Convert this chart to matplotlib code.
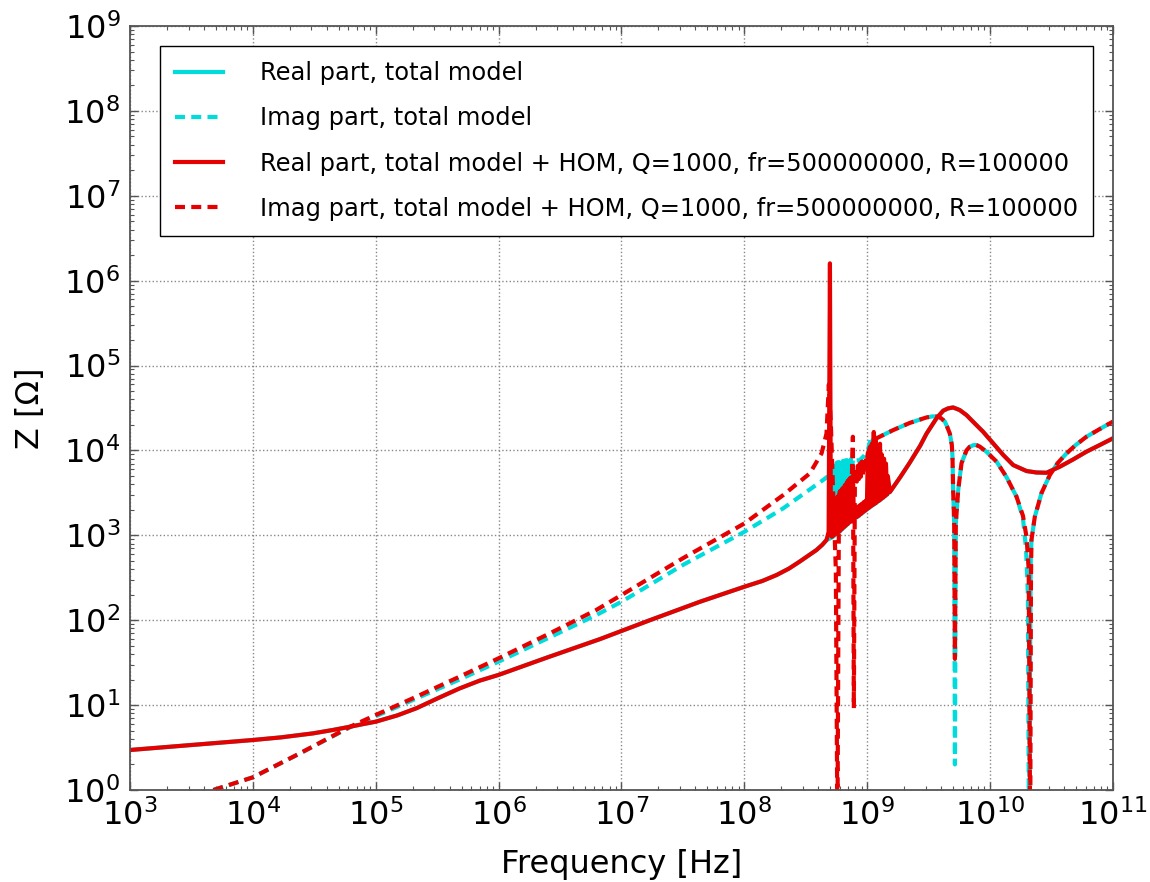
import matplotlib
matplotlib.use("Agg")
import matplotlib.pyplot as plt
from matplotlib.ticker import LogLocator, NullFormatter

# ---- real part, total model (smooth broadband curve) ----
real_freq = [1e3, 1e4, 1.7e4, 3.1e4, 4.5e4, 6.2e4, 8e4, 1e5, 1.5e5, 2.15e5, 3.2e5, 4.8e5,
             7e5, 1e6, 2.5e6, 6.7e6, 1.7e7, 4.35e7, 1e8, 1.4e8, 1.83e8, 2.3e8, 2.81e8,
             3.3e8, 3.86e8, 4.3e8, 4.66e8, 5.2e8, 6.0e8, 7.2e8, 8.7e8, 1.05e9,
             1.27e9, 1.53e9, 1.87e9, 2.22e9, 2.7e9, 3.04e9, 3.66e9, 4.15e9, 4.55e9,
             5.0e9, 5.66e9, 6.42e9, 7.5e9, 8.77e9, 1.06e10, 1.28e10, 1.54e10, 1.98e10,
             2.38e10, 2.88e10, 3.69e10, 4.73e10, 6.08e10, 7.82e10, 1e11]
real_vals = [2.96, 3.88, 4.17, 4.65, 5.1, 5.57, 6.0, 6.38, 7.57, 9.2, 12.05, 15.7,
             19.4, 22.7, 36.5, 60, 100, 165, 248, 290, 341, 405, 489,
             574, 671, 772, 880, 950, 1120, 1430, 1740, 2150,
             2600, 3240, 4930, 7200, 11400, 15800, 23900, 29400, 31300,
             32100, 29900, 26100, 20800, 16600, 12100, 8830, 6730, 5720,
             5500, 5460, 6430, 7820, 9670, 11600, 13900]

# ---- imaginary part, total model ----
imag_freq = [4.77e3, 1e4, 2.42e4, 6.2e4, 1e5, 2.15e5, 4.8e5, 1e6, 2.61e6, 6.23e6,
             1e7, 3.18e7, 1e8, 2.07e8, 4.37e8, 5.0e8,
             5.15e8, 5.25e8, 5.35e8, 5.45e8, 5.55e8, 5.66e8, 5.77e8, 5.87e8, 5.98e8,
             6.09e8, 6.21e8, 6.33e8, 6.45e8, 6.57e8, 6.70e8, 6.82e8, 6.95e8, 7.08e8,
             7.22e8, 7.36e8, 7.50e8, 7.64e8, 8.08e8, 8.71e8, 9.39e8, 1.01e9, 1.07e9,
             1.09e9, 1.13e9, 1.17e9, 1.19e9, 1.63e9, 2.22e9, 3.04e9, 3.4e9, 3.78e9,
             4.0e9, 4.28e9, 4.47e9, 4.7e9, 4.88e9, 4.94e9, 5.0e9, 5.1e9, 5.17e9,
             5.26e9, 5.5e9, 5.85e9, 6.42e9, 6.8e9, 7.26e9, 7.7e9, 8.24e9, 9.33e9,
             1.13e10, 1.36e10, 1.64e10, 1.85e10, 1.96e10, 2.03e10, 2.07e10, 2.14e10,
             2.17e10, 2.31e10, 2.62e10, 3.06e10, 3.55e10, 4.19e10, 4.98e10, 6.08e10,
             7.82e10, 1e11]
imag_vals = [1.0, 1.41, 2.7, 5.5, 7.4, 12, 20, 32.5, 63, 115,
             165, 450, 1100, 2080, 4480, 5200,
             3000, 6800, 3000, 7000, 3000, 7200, 3200, 7300, 3400,
             7400, 3600, 7500, 3800, 7600, 4000, 7700, 4200, 7800,
             4500, 7900, 4800, 8000, 7600, 7700, 8600, 10000, 14000,
             11500, 16000, 13000, 13900, 17400, 21100, 24500, 25200, 25000,
             23900, 21900, 19000, 15800, 11600, 8440, 3420, 1390, 2.0,
             1390, 3420, 7070, 10000, 11000, 11500, 11600, 11100, 9670,
             7360, 4850, 2850, 1600, 700, 200, 0.3, 500,
             880, 1650, 3150, 5130, 7110, 9250, 11600, 14500,
             17900, 21900]

# ---- real part, total model + HOM resonator ----
hom_real_freq = [1e3, 1e4, 1.7e4, 3.1e4, 4.5e4, 6.2e4, 8e4, 1e5, 1.5e5, 2.15e5, 3.2e5,
                 4.8e5, 7e5, 1e6, 2.5e6, 6.7e6, 1.7e7, 4.35e7, 1e8, 1.4e8, 1.83e8,
                 2.3e8, 2.81e8, 3.3e8, 3.86e8, 4.3e8, 4.66e8, 4.85e8, 4.97e8, 5.06e8,
                 5.15e8, 5.25e8, 5.35e8, 5.45e8, 5.55e8, 5.66e8, 5.77e8, 5.87e8,
                 5.98e8, 6.09e8, 6.21e8, 6.33e8, 6.45e8, 6.57e8, 6.70e8, 6.82e8,
                 6.95e8, 7.08e8, 7.22e8, 7.36e8, 7.50e8, 7.64e8, 7.78e8, 8.08e8,
                 8.23e8, 8.39e8, 8.55e8, 8.71e8, 8.87e8, 9.04e8, 9.21e8, 9.39e8,
                 9.57e8, 9.75e8, 9.93e8, 1.01e9, 1.03e9, 1.05e9, 1.07e9, 1.09e9,
                 1.11e9, 1.13e9, 1.15e9, 1.17e9, 1.19e9, 1.22e9, 1.24e9, 1.27e9,
                 1.29e9, 1.31e9, 1.34e9, 1.37e9, 1.39e9, 1.42e9, 1.45e9, 1.47e9,
                 1.53e9, 1.87e9, 2.22e9, 2.7e9, 3.04e9, 3.66e9, 4.15e9, 4.55e9,
                 5.0e9, 5.66e9, 6.42e9, 7.5e9, 8.77e9, 1.06e10, 1.28e10, 1.54e10,
                 1.98e10, 2.38e10, 2.88e10, 3.69e10, 4.73e10, 6.08e10, 7.82e10, 1e11]
hom_real_vals = [2.96, 3.88, 4.17, 4.65, 5.1, 5.57, 6.0, 6.38, 7.57, 9.2, 12.05,
                 15.7, 19.4, 22.7, 36.5, 60, 100, 165, 248, 290, 341,
                 405, 489, 574, 671, 772, 880, 1100, 1.6e6, 1000,
                 960, 2400, 1000, 2600, 1040, 2800, 1080, 3000,
                 1120, 3300, 1180, 3600, 1240, 3900, 1300, 4200,
                 1360, 4500, 1430, 4800, 1490, 5000, 1550, 2100,
                 1640, 2180, 1700, 2260, 1780, 2360, 1860, 2470,
                 1940, 2570, 2020, 9000, 2100, 11000, 2190, 12000,
                 2270, 16500, 2350, 13000, 2430, 11000, 2540, 12000,
                 2650, 9000, 2760, 8000, 2880, 7000, 3020, 5000,
                 3240, 4930, 7200, 11400, 15800, 23900, 29400, 31300,
                 32100, 29900, 26100, 20800, 16600, 12100, 8830, 6730,
                 5720, 5500, 5460, 6430, 7820, 9670, 11600, 13900]

# ---- imaginary part, total model + HOM resonator ----
hom_imag_freq = [4.77e3, 1e4, 2.42e4, 6.2e4, 1e5, 2.15e5, 4.8e5, 1e6, 2.61e6, 6.23e6,
                 1e7, 3.18e7, 1e8, 2.07e8, 3.41e8, 4.25e8, 4.66e8, 4.87e8, 5.06e8,
                 5.25e8, 5.55e8, 5.72e8, 5.87e8, 5.98e8, 6.09e8, 6.21e8, 6.33e8,
                 6.45e8, 6.57e8, 6.70e8, 6.82e8, 6.95e8, 7.08e8, 7.22e8, 7.36e8,
                 7.50e8, 7.64e8, 7.78e8, 7.93e8, 8.08e8, 8.23e8, 8.39e8, 8.55e8,
                 8.71e8, 8.87e8, 9.04e8, 9.21e8, 9.39e8, 9.57e8, 9.75e8, 9.93e8,
                 1.01e9, 1.05e9, 1.09e9, 1.19e9, 1.63e9, 2.22e9, 3.04e9, 3.4e9, 3.78e9,
                 4.0e9, 4.28e9, 4.47e9, 4.7e9, 4.88e9, 4.94e9, 5.0e9, 5.1e9, 5.17e9,
                 5.26e9, 5.5e9, 5.85e9, 6.42e9, 6.8e9, 7.26e9, 7.7e9, 8.24e9, 9.33e9,
                 1.13e10, 1.36e10, 1.64e10, 1.85e10, 1.98e10, 2.06e10, 2.12e10,
                 2.15e10, 2.17e10, 2.31e10, 2.62e10, 3.06e10, 3.55e10, 4.19e10,
                 4.98e10, 6.08e10, 7.82e10, 1e11]
hom_imag_vals = [1.0, 1.41, 2.71, 5.57, 7.65, 12.6, 21.6, 35.6, 70, 132,
                 198, 540, 1380, 2980, 5370, 9250, 15800, 60000, 20000,
                 4000, 400, 0.3, 1200, 3300, 2600, 3500, 2800,
                 3800, 3000, 4100, 3200, 4400, 3400, 4700, 3600,
                 5000, 14500, 9.2, 4000, 6200, 4300, 6600, 4600,
                 7000, 4900, 7400, 5100, 7900, 5300, 8400, 5500,
                 9300, 10500, 11500, 13900, 17400, 21100, 24500, 25200, 25000,
                 23900, 21900, 19000, 15800, 11600, 8440, 3420, 1390, 35,
                 1390, 3420, 7070, 10000, 11000, 11500, 11600, 11100, 9670,
                 7360, 4850, 2850, 1700, 950, 400, 0.3,
                 300, 880, 1650, 3150, 5130, 7110, 9250,
                 11600, 14500, 17900, 21900]

legend_labels = [
    "Real part, total model",
    "Imag part, total model",
    "Real part, total model + HOM, Q=1000, fr=500000000, R=100000",
    "Imag part, total model + HOM, Q=1000, fr=500000000, R=100000",
]

CYAN = "#00dcdc"
RED = "#e60000"
DASH = (0, (2.4, 1.5))

fig = plt.figure(figsize=(11.5, 8.82), dpi=100)
ax = fig.add_axes([0.11304, 0.10431, 0.85478, 0.86621])

ax.plot(real_freq, real_vals, color=CYAN, lw=3, label=legend_labels[0])
ax.plot(imag_freq, imag_vals, color=CYAN, lw=3, ls=DASH, label=legend_labels[1])
ax.plot(hom_real_freq, hom_real_vals, color=RED, lw=3, label=legend_labels[2])
ax.plot(hom_imag_freq, hom_imag_vals, color=RED, lw=3, ls=DASH, label=legend_labels[3])

ax.set_xscale("log")
ax.set_yscale("log")
ax.set_xlim(1e3, 1e11)
ax.set_ylim(1e0, 1e9)

ax.xaxis.set_major_locator(LogLocator(base=10, numticks=20))
ax.yaxis.set_major_locator(LogLocator(base=10, numticks=20))
ax.xaxis.set_minor_locator(LogLocator(base=10, subs=range(2, 10), numticks=100))
ax.yaxis.set_minor_locator(LogLocator(base=10, subs=range(2, 10), numticks=100))
ax.xaxis.set_minor_formatter(NullFormatter())
ax.yaxis.set_minor_formatter(NullFormatter())

ax.tick_params(which="both", direction="in", top=True, right=True, labelsize=23,
               color="#555555")
ax.tick_params(which="major", length=6, width=1, pad=7)
ax.tick_params(which="minor", length=3, width=0.8)
for sp in ax.spines.values():
    sp.set_color("#555555")
    sp.set_linewidth(1.3)

ax.grid(True, which="major", color="#888888", linestyle=":", linewidth=1)

ax.set_xlabel("Frequency [Hz]", fontsize=23, labelpad=12)
ax.set_ylabel("Z [Ω]", fontsize=23, labelpad=13)

leg = ax.legend(loc="upper left", bbox_to_anchor=(0.0305, 0.9738), borderaxespad=0,
                fontsize=17.4, fancybox=False, framealpha=1, edgecolor="black",
                handlelength=2.0, handletextpad=1.5, labelspacing=0.88,
                borderpad=0.62)
leg.get_frame().set_linewidth(1.0)

fig.savefig("out.png", dpi=100)
